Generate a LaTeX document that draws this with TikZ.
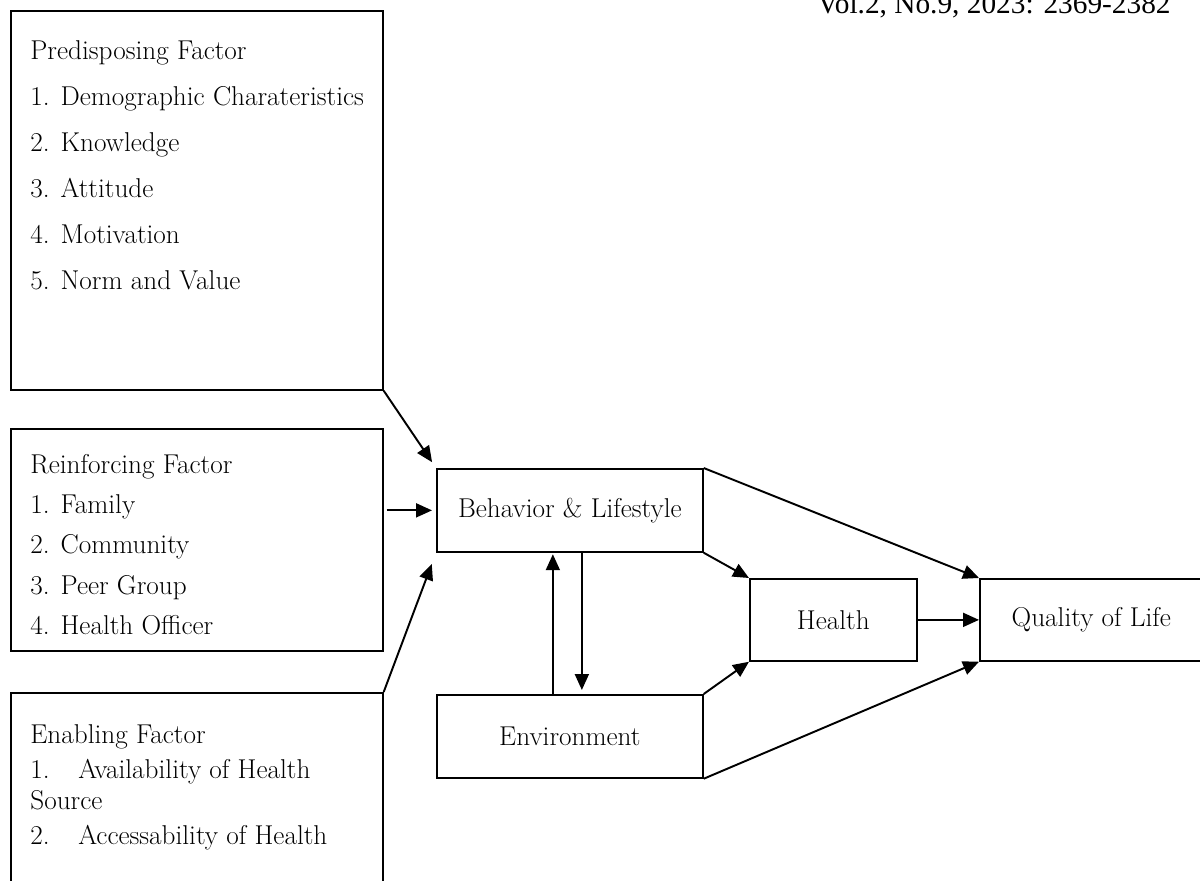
\documentclass[tikz,border=0pt]{standalone}
\usepackage{fontspec}
\newfontfamily\hdrfont{Liberation Serif}
\usetikzlibrary{arrows.meta}

\begin{document}
\begin{tikzpicture}[x=0.02cm,y=-0.02cm,
    box/.style={draw,line width=1pt,inner sep=0pt,anchor=north west,font=\fontsize{15.5}{18}\selectfont},
    txt/.style={anchor=base west,inner sep=0pt,font=\fontsize{15.5}{18}\selectfont},
    arr/.style={-{Triangle[length=0.32cm,width=0.28cm]},line width=1.1pt}]
    \useasboundingbox (0,0) rectangle (1200,881);
    \clip (0,0) rectangle (1200,881);

    \node[anchor=base east,inner sep=0pt,font=\hdrfont\fontsize{16.7}{20}\selectfont] (hdr) at (1171,14) {Vol.2, No.9, 2023: 2369-2382};

    % factor boxes on the left
    \node[box,minimum width=7.44cm,minimum height=7.58cm] (pre) at (10,10) {};
    \node[box,minimum width=7.44cm,minimum height=4.44cm] (rei) at (10,428) {};
    \node[box,minimum width=7.44cm,minimum height=4.4cm] (ena) at (10,692) {};

    \foreach \t [count=\i] in {Predisposing Factor,1. Demographic Charateristics,2. Knowledge,3. Attitude,4. Motivation,5. Norm and Value}
        \node[txt] (pre-\i) at (30,{60+46*(\i-1)}) {\t};
    \foreach \t [count=\i] in {Reinforcing Factor,1. Family,2. Community,3. Peer Group,4. Health Officer}
        \node[txt] (rei-\i) at (30,{474+40*(\i-1)}) {\t};
    \node[txt] (ena-1) at (30,743) {Enabling Factor};
    \node[txt] (ena-2) at (30,778) {1.\hspace{1.05em}Availability of Health};
    \node[txt] (ena-3) at (30,809) {Source};
    \node[txt] (ena-4) at (30,844) {2.\hspace{1.05em}Accessability of Health};

    % middle and right
    \node[box,minimum width=5.32cm,minimum height=1.66cm] (beh) at (436,468) {Behavior \& Lifestyle};
    \node[box,minimum width=5.32cm,minimum height=1.66cm] (env) at (436,694) {Environment};
    \node[box,minimum width=3.34cm,minimum height=1.64cm] (hea) at (749,578) {Health};
    \node[box,minimum width=4.46cm,minimum height=1.64cm] (qol) at (979,578) {Quality of Life};

    \draw[arr,shorten >=0.14cm] (pre.south east) -- (beh.north west);
    \draw[arr,shorten <=0.06cm,shorten >=0.08cm] (rei.east |- beh.west) -- (beh.west);
    \draw[arr,shorten >=0.24cm] (ena.north east) -- (beh.south west);
    \draw[arr,shorten >=0.03cm] ([xshift=-0.34cm]env.north) -- ([xshift=-0.34cm]beh.south);
    \draw[arr,shorten >=0.08cm] ([xshift=0.24cm]beh.south) -- ([xshift=0.24cm]env.north);
    \draw[arr] (beh.south east) -- (hea.north west);
    \draw[arr] (beh.north east) -- (qol.north west);
    \draw[arr] (env.north east) -- (hea.south west);
    \draw[arr] (env.south east) -- (qol.south west);
    \draw[arr] (hea.east) -- (qol.west);
\end{tikzpicture}
\end{document}
